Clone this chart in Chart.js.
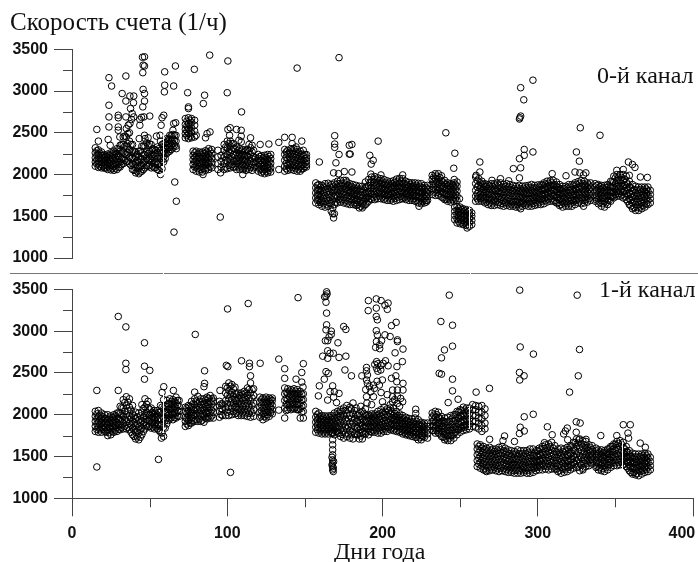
<!DOCTYPE html>
<html lang="ru">
<head>
<meta charset="utf-8">
<title>Скорость счета</title>
<script src="https://cdn.jsdelivr.net/npm/chart.js@4"></script>
<style>
  html, body { margin: 0; padding: 0; background: #fff; }
  #page { position: relative; width: 698px; height: 562px; overflow: hidden; }
  canvas { position: absolute; left: 0; }
  .label { position: absolute; font-family: "Liberation Serif", serif; color: #111; white-space: nowrap; line-height: 1; }
  #sep { position: absolute; left: 10px; top: 273px; width: 688px; height: 1px; background: #777; }
  .nick { position: absolute; top: 273px; width: 1px; height: 1px; background: #fff; }
</style>
</head>
<body>
<div id="page">
  <canvas id="chart0" width="698" height="273" style="top:0"></canvas>
  <canvas id="chart1" width="698" height="289" style="top:273px"></canvas>
  <div id="sep"></div>
  <div class="nick" style="left:163px"></div>
  <div class="nick" style="left:470px"></div>
  <div class="label" style="left:10px;top:9px;font-size:25px">Скорость счета (1/ч)</div>
  <div class="label" style="left:597px;top:63px;font-size:24px">0-й канал</div>
  <div class="label" style="left:599px;top:277px;font-size:24px">1-й канал</div>
  <div class="label" style="left:334px;top:539px;font-size:24px">Дни года</div>
</div>
<script>
const xTicksMajor = [0, 100, 200, 300, 400];
const xTicksMinor = [50, 150, 250, 350];
const yTicksMinor = [1250, 1750, 2250, 2750, 3250];

// channel 0: dense band, one row per day: day, then rates read bottom to top of the band
const ch0Band = [
  [15,2100,2150,2200,2260,2320],[17,2085,2135,2190,2240,2295],[19,2080,2120,2175,2225,2270],[21,2075,2110,2160,2200,2235],
  [23,2060,2105,2150,2205,2245],[25,2055,2110,2160,2210,2260],[27,2050,2100,2165,2225,2280],[29,2060,2120,2180,2250,2310],
  [31,2090,2150,2210,2280,2350],[33,2130,2190,2270,2360,2450],[35,2150,2240,2340,2450,2550],[37,2130,2210,2300,2400,2500],
  [39,2060,2130,2200,2280,2360],[41,2020,2080,2140,2210,2270],[43,2010,2075,2150,2215,2280],[45,2040,2110,2185,2260,2340],
  [47,2080,2160,2240,2340,2430],[49,2100,2170,2250,2350,2440],[51,2080,2150,2215,2290,2360],[53,2080,2130,2190,2245,2300],
  [55,2060,2120,2190,2260,2330],[57,2000,2090,2190,2290,2400],[59,2150,2210,2270,2320,2370],[61,2250,2300,2345,2390,2430],
  [63,2280,2330,2375,2425,2470],[65,2320,2370,2425,2480,2530],[67,2340,2400,2470],
  [73,2440,2490,2540,2600,2670],[75,2430,2490,2550,2610,2680],[77,2440,2500,2560,2620,2670],[79,2450,2520,2590,2650],
  [78,2060,2120,2180,2230,2280],[80,2040,2100,2160,2220,2280],[82,2030,2090,2150,2210,2270],[84,2030,2090,2155,2215,2270],
  [86,2050,2110,2170,2225,2285],[88,2060,2125,2185,2245,2310],[90,2080,2140,2195,2250,2300],
  [94,2060,2130,2210,2290],[96,2090,2160,2230],
  [98,2060,2130,2210,2290,2360],[100,2070,2160,2240,2320,2400],[102,2080,2170,2260,2340,2400],[104,2090,2170,2240,2310,2370],
  [106,2060,2130,2190,2260,2330],[108,2060,2130,2190,2250,2310],[110,2060,2120,2180,2240,2300],[112,2050,2110,2170,2230,2290],
  [114,2060,2130,2200,2280,2360],[116,2050,2120,2190,2270,2350],[118,2090,2150,2200],
  [120,2040,2090,2140,2190,2240],[122,2020,2070,2120,2170,2225],[124,2010,2060,2110,2170,2230],[126,2020,2070,2120,2180,2240],
  [128,2030,2080,2135,2190,2240],
  [137,2040,2100,2170,2240,2300],[139,2050,2110,2180,2240,2290],[141,2060,2120,2185,2250,2310],[143,2050,2110,2175,2245,2310],
  [145,2040,2100,2170,2235,2300],[147,2040,2095,2150,2215,2280],[149,2070,2120,2170,2230,2290],[151,2090,2120,2160,2200,2240],
  [157,1660,1720,1780,1840,1900],[159,1640,1700,1760,1820,1880],[161,1620,1680,1740,1810,1870],[163,1610,1680,1750,1820,1890],
  [165,1620,1690,1760,1830,1895],[167,1560,1650,1740,1820,1880],[169,1530,1640,1730,1810,1900],[171,1660,1730,1790,1850,1920],
  [173,1670,1735,1800,1860,1930],[175,1660,1725,1790,1860,1930],[177,1650,1720,1790,1850,1910],[179,1640,1710,1780,1840,1890],
  [181,1640,1700,1765,1825,1880],[183,1630,1690,1750,1810,1870],[185,1600,1665,1730,1795,1860],[187,1600,1650,1720,1790,1860],
  [189,1640,1710,1770,1840,1910],[191,1680,1740,1800,1870,1940],[193,1700,1770,1840,1910,1970],[195,1700,1765,1835,1905,1975],
  [197,1710,1775,1840,1900,1960],[199,1710,1770,1830,1890,1950],[201,1700,1760,1820,1880,1940],[203,1690,1750,1810,1870,1925],
  [205,1690,1745,1800,1860,1915],[207,1680,1740,1800,1865,1925],[209,1690,1755,1820,1885,1945],[211,1700,1765,1830,1895,1955],
  [213,1710,1770,1830,1890,1950],[215,1700,1755,1810,1865,1920],[217,1690,1745,1800,1855,1905],[219,1690,1745,1800,1855,1900],
  [221,1680,1735,1790,1845,1900],[223,1660,1720,1780,1840,1895],[225,1650,1710,1770,1830,1890],[227,1660,1710,1765,1820,1870],
  [229,1690,1735,1780,1825,1870],
  [232,1760,1820,1880,1940,1990],[234,1750,1820,1885,1950,2010],[236,1750,1815,1880,1945,2010],[238,1730,1795,1860,1925,1985],
  [240,1700,1760,1825,1885,1930],[242,1680,1740,1800,1860,1900],[244,1670,1730,1790,1850,1890],[246,1680,1730,1790,1850,1900],
  [248,1690,1745,1800,1860,1910],
  [246.5,1460,1510,1560,1610],[248,1420,1470,1520,1570,1620],[250,1410,1460,1510,1560,1610],[252,1400,1450,1500,1550,1590],
  [254,1390,1440,1490,1540,1580],[256,1380,1430,1480,1530,1570],[257.5,1400,1450,1500,1540],
  [260,1680,1740,1810,1890,1970],[262,1680,1740,1800,1870,1950],[264,1680,1730,1790,1860,1920],[266,1660,1720,1785,1850,1890],
  [268,1640,1700,1760,1825,1880],[270,1630,1695,1760,1825,1890],[272,1630,1695,1760,1825,1890],[274,1640,1700,1770,1835,1900],
  [276,1630,1700,1770,1840,1900],[278,1620,1690,1755,1820,1880],[280,1630,1690,1755,1820,1890],[282,1620,1680,1750,1820,1880],
  [284,1620,1675,1740,1805,1870],[286,1610,1675,1740,1805,1860],[288,1610,1670,1735,1800,1870],[290,1620,1680,1740,1800,1860],
  [292,1630,1685,1745,1805,1865],[294,1620,1680,1745,1810,1870],[296,1620,1680,1745,1810,1880],[298,1630,1690,1750,1810,1870],
  [300,1640,1695,1755,1815,1875],[302,1640,1700,1760,1820,1880],[304,1650,1710,1775,1840,1900],[306,1670,1730,1790,1855,1920],
  [308,1680,1740,1805,1865,1925],[310,1680,1745,1810,1870,1930],[312,1660,1725,1790,1850,1910],[314,1630,1695,1760,1820,1880],
  [316,1610,1675,1740,1800,1860],[318,1620,1680,1740,1800,1860],[320,1620,1685,1750,1810,1880],[322,1620,1690,1755,1820,1880],
  [324,1640,1700,1765,1830,1900],[326,1660,1720,1785,1850,1915],[328,1650,1720,1790,1860,1930],[330,1660,1725,1790,1860,1920],
  [332,1670,1730,1790,1850,1900],[334,1690,1745,1800,1850,1900],
  [337,1680,1730,1790,1850,1890],[339,1650,1710,1770,1830,1880],[341,1620,1685,1750,1815,1870],[343,1610,1680,1745,1810,1870],
  [345,1640,1695,1755,1815,1880],[347,1680,1735,1790,1850,1920],[349,1720,1780,1840,1910,1980],[351,1740,1800,1860,1930,2000],
  [353,1740,1800,1860,1930,2000],[355,1720,1790,1860,1930,2000],[357,1700,1770,1840,1910,1980],[359,1640,1710,1780,1850,1920],
  [361,1590,1660,1730,1800,1880],[363,1570,1640,1710,1780,1860],[365,1570,1640,1710,1775,1850],[367,1590,1660,1725,1790,1850],
  [369,1610,1670,1735,1795,1850],[371,1640,1695,1750,1800,1850],[372.5,1660,1710,1760,1810]
];

// channel 0: the days in between, inside the band
const ch0Fill = [
  [16,2125,2175,2230,2285],[18,2100,2150,2200,2255],[20,2095,2140,2185,2230],[22,2080,2125,2175,2220],[24,2080,2130,2180,2230],
  [26,2075,2130,2190,2245],[28,2075,2140,2200,2270],[30,2085,2150,2220,2300],[32,2120,2185,2260,2360],[34,2170,2250,2340,2460],
  [36,2160,2260,2370,2490],[38,2110,2190,2270,2360],[40,2050,2115,2190,2280],[42,2040,2105,2170,2240],[44,2030,2100,2185,2280],
  [46,2060,2145,2235,2340],[48,2105,2190,2280,2380],[50,2110,2190,2275,2365],[52,2100,2170,2240,2310],[54,2085,2150,2220,2290],
  [56,2050,2135,2220,2310],[58,2070,2170,2260,2360],[60,2190,2250,2310,2380],[62,2270,2320,2370,2420],[64,2300,2355,2410,2465],
  [66,2350,2410,2470],[74,2465,2520,2580,2640],[76,2460,2525,2590,2650],[79,2090,2150,2205,2260],[81,2070,2130,2190,2250],
  [83,2060,2125,2185,2245],[85,2070,2130,2190,2250],[87,2080,2145,2205,2270],[89,2095,2160,2220,2280],[99,2090,2170,2250,2330],
  [101,2110,2200,2280,2370],[103,2120,2210,2290,2370],[105,2090,2160,2230,2310],[107,2090,2160,2225,2290],[109,2090,2155,2220,2280],
  [111,2085,2150,2210,2270],[113,2080,2150,2220,2300],[115,2085,2160,2240,2320],[117,2080,2150,2215,2290],[121,2060,2115,2165,2215],
  [123,2040,2095,2145,2200],[125,2040,2090,2145,2205],[127,2050,2100,2155,2215],[138,2070,2135,2205,2270],[140,2080,2145,2210,2270],
  [142,2085,2150,2215,2280],[144,2075,2140,2205,2275],[146,2065,2125,2190,2260],[148,2065,2120,2180,2245],[150,2095,2140,2190,2240],
  [158,1690,1750,1810,1870],[160,1665,1730,1790,1850],[162,1650,1715,1780,1850],[164,1645,1720,1790,1860],[166,1655,1725,1795,1860],
  [168,1600,1695,1780,1850],[170,1670,1745,1815,1880],[172,1700,1765,1825,1890],[174,1695,1765,1830,1895],[176,1685,1755,1825,1885],
  [178,1675,1745,1810,1870],[180,1670,1735,1795,1855],[182,1660,1720,1780,1840],[184,1640,1705,1770,1835],[186,1620,1685,1755,1825],
  [188,1625,1685,1750,1815],[190,1660,1725,1785,1855],[192,1710,1770,1835,1905],[194,1730,1800,1870,1940],[196,1735,1800,1870,1935],
  [198,1740,1800,1860,1925],[200,1730,1790,1850,1910],[202,1720,1780,1840,1900],[204,1720,1775,1835,1895],[206,1710,1770,1830,1890],
  [208,1715,1780,1845,1905],[210,1730,1795,1860,1920],[212,1735,1800,1860,1920],[214,1725,1785,1840,1895],[216,1720,1775,1830,1880],
  [218,1715,1770,1825,1880],[220,1710,1765,1820,1870],[222,1690,1750,1810,1870],[224,1680,1740,1800,1860],[226,1680,1735,1790,1845],
  [228,1690,1740,1790,1840],[233,1790,1850,1915,1970],[235,1785,1850,1915,1980],[237,1770,1835,1900,1965],[239,1720,1785,1850,1910],
  [241,1705,1765,1830,1885],[243,1700,1760,1820,1870],[245,1700,1760,1820,1875],[247,1710,1765,1825,1880],[249,1440,1490,1545,1595],
  [251,1430,1480,1530,1580],[253,1420,1465,1515,1565],[255,1405,1455,1505,1555],[261,1710,1770,1850,1930],[263,1710,1765,1830,1900],
  [265,1695,1755,1820,1880],[267,1670,1730,1795,1860],[269,1660,1725,1790,1860],[271,1660,1730,1795,1860],[273,1670,1735,1800,1870],
  [275,1665,1735,1800,1870],[277,1655,1725,1790,1850],[279,1660,1720,1785,1855],[281,1650,1715,1785,1850],[283,1645,1705,1775,1840],
  [285,1640,1705,1770,1830],[287,1640,1700,1770,1835],[289,1650,1710,1770,1830],[291,1655,1715,1775,1835],[293,1650,1710,1775,1840],
  [295,1650,1710,1775,1845],[297,1655,1720,1780,1840],[299,1665,1725,1785,1845],[301,1670,1730,1790,1850],[303,1680,1740,1805,1870],
  [305,1690,1760,1820,1885],[307,1705,1770,1835,1895],[309,1710,1775,1840,1900],[311,1690,1755,1820,1880],[313,1660,1725,1790,1850],
  [315,1640,1705,1770,1830],[317,1650,1710,1770,1830],[319,1650,1715,1780,1845],[321,1650,1720,1785,1850],[323,1670,1730,1795,1865],
  [325,1690,1750,1815,1880],[327,1685,1755,1825,1895],[329,1690,1755,1825,1890],[331,1700,1760,1820,1875],[333,1710,1770,1825,1875],
  [338,1695,1750,1810,1870],[340,1665,1730,1790,1855],[342,1650,1715,1780,1840],[344,1660,1720,1785,1845],[346,1690,1745,1805,1865],
  [348,1730,1790,1850,1915],[350,1760,1820,1890,1960],[352,1770,1830,1895,1965],[354,1755,1825,1895,1965],[356,1740,1805,1875,1945],
  [358,1675,1745,1815,1885],[360,1625,1695,1765,1840],[362,1605,1675,1745,1820],[364,1605,1675,1745,1815],[366,1610,1680,1750,1820],
  [368,1630,1695,1760,1820],[370,1650,1710,1770,1825]
];

// channel 0: points standing clear of the band, day and rate
const ch0Extra = [
  [16,2540],[17,2400],[23.8,3160],[25.5,3060],[23.8,2830],[23.8,2690],[23.8,2570],[23.3,2420],[24.6,2350],[29.8,2710],[29.8,2680],
  [29.8,2570],[29.8,2530],[30.8,2450],[32.3,2970],[34.7,3180],[34.7,2880],[34.7,2690],[37.3,2940],[39.8,2940],[39.6,2860],[37.7,2790],
  [38.8,2730],[39.8,2690],[38.3,2660],[36.2,2590],[37.3,2610],[43.7,2660],[44.8,2685],[43.7,2590],[43.3,2430],[45.4,3405],[46.7,3410],
  [45.8,3310],[46.7,3300],[45.6,3220],[45.8,3020],[46.7,2970],[46.7,2880],[45.6,2810],[46.3,2690],[50.1,2700],[46.7,2470],[54.4,2460],
  [59.7,3230],[59.7,3070],[59.5,2990],[59.1,2710],[58,2680],[57.4,2590],[56.7,2470],[66.6,3300],[65.5,3060],[65.5,2610],[66.8,2620],
  [66.2,1910],[67.2,1680],[65.7,1310],[67.2,2310],[74.5,2980],[78.8,3260],[85.4,2950],[84.6,2850],[75,2810],[75,2790],[88.7,3430],
  [86,2440],[87,2490],[88.9,2510],[80,2470],[95.5,1490],[95.7,2020],[100.4,3360],[100,2980],[109.2,2750],[100.4,2540],[101.9,2560],
  [106,2540],[109,2530],[101.5,2470],[109,2460],[107.5,2410],[109,2390],[115,2440],[121.2,2360],[126.8,2365],[133.2,2385],[137,2445],
  [141.8,2445],[141.8,2370],[145,3275],[148,2400],[144.3,2330],[133.2,2060],[110,2000],[84.4,2000],[172,3400],[159.3,2150],[169.2,2465],
  [169.2,2365],[169.2,2325],[172,2240],[170,2140],[168.5,2020],[171.7,2010],[175.4,2035],[176.5,1930],[178.6,2350],[178.6,2245],
  [168.5,1480],[167.9,1530],[180.3,2360],[179.2,2245],[197.2,2400],[191.8,2230],[194,2170],[192.7,2125],[180.3,2030],[192.5,2005],
  [199,1995],[213,1995],[240.8,2500],[246.6,2255],[245.9,2075],[246.2,1940],[249.6,1710],[262.7,2150],[262.7,2030],[260.3,1990],
  [296.9,3130],[289,3040],[291,2895],[289,2700],[288.2,2665],[288.5,2680],[291.3,2300],[291.3,2230],[296.9,2270],[288.2,2190],
  [284.3,2070],[289,2080],[288.2,1960],[309.3,2010],[318.2,1985],[327.4,2560],[324.9,2270],[326.8,2160],[324,2030],[327.1,2020],
  [331,2020],[329.5,1995],[340.1,2470],[350.9,2050],[355.1,2060],[358.4,2150],[361,2120],[362.6,2085],[359,1990],[366.1,1970],
  [370.6,1965],[276,1950],[270.5,1930],[281.3,1925],[329.5,1620],[289,1590],[223.5,1620],[228.2,1670],[254.5,1360]
];

// channel 1: dense band, same layout as ch0Band
const ch1Band = [
  [15,1800,1860,1920,1980,2040],[17,1790,1850,1910,1975,2050],[19,1790,1850,1905,1960,2020],[21,1800,1850,1900,1950,2000],
  [23,1750,1815,1880,1940,2000],[25,1760,1820,1875,1930,1985],[27,1790,1840,1890,1945,2000],[29,1800,1850,1905,1960,2020],
  [31,1820,1880,1940,2010,2100],[33,1830,1900,1980,2080,2180],[35,1830,1910,2000,2110,2215],[37,1820,1900,1990,2090,2190],
  [39,1760,1840,1920,2010,2110],[41,1710,1790,1870,1950,2030],[43,1700,1780,1860,1940,2020],[45,1760,1840,1930,2030,2120],
  [47,1830,1910,1990,2090,2190],[49,1860,1930,2000,2080,2160],[51,1840,1900,1960,2020,2080],[53,1830,1885,1940,2000,2050],
  [55,1830,1885,1940,1995,2050],[57,1790,1870,1950,2030,2110],[59,1740,1850,1960,2070,2180],[61,1890,1960,2030,2100,2170],
  [63,1950,2010,2070,2130,2190],[65,1940,2000,2060,2120,2180],[67,1960,2020,2080,2140,2210],[69,1980,2040,2100,2170],
  [73,1860,1920,1970,2040,2090],[75,1870,1930,1990,2050,2110],[77,1900,1960,2020,2090,2160],[79,1920,1990,2050,2120,2190],
  [81,1920,1990,2060,2130,2220],[83,1920,1985,2050,2120,2190],[85,1910,1985,2055,2125,2190],[87,1950,2015,2080,2145,2210],
  [89,1960,2025,2090,2160,2230],[91,1960,2030,2090,2160,2200],[95,1970,2040,2110,2160],[97,1990,2060,2130],
  [99,1990,2080,2170,2260,2340],[101,1990,2090,2190,2290,2380],[103,2000,2090,2180,2270,2360],[105,2010,2090,2170,2250,2330],
  [107,1990,2060,2130,2200,2260],[109,1990,2060,2130,2200,2260],[111,1990,2060,2135,2210,2280],[113,1980,2060,2140,2230,2320],
  [115,1970,2060,2160,2260,2380],[117,1980,2060,2140,2230,2310],
  [121,1970,2030,2090,2150,2210],[123,1940,2010,2080,2145,2200],[125,1960,2025,2090,2150,2210],[127,1980,2040,2100,2160,2200],
  [129,2010,2060,2110,2170,2200],
  [137,1960,2080,2170,2250,2320],[139,2060,2120,2180,2250,2310],[141,2060,2120,2175,2240,2300],[143,2070,2130,2190,2250,2310],
  [145,2060,2120,2180,2240,2300],[147,1960,2070,2140,2210,2280],[149,1960,2040,2110,2180,2250],
  [157,1790,1850,1910,1970,2040],[159,1780,1840,1900,1960,2020],[161,1770,1830,1880,1940,1990],[163,1770,1820,1875,1930,1985],
  [165,1770,1825,1880,1935,1985],[167,1780,1830,1885,1940,1990],[169,1760,1820,1880,1950,2020],[171,1780,1840,1900,1970,2040],
  [173,1740,1820,1900,1980,2060],[175,1720,1810,1900,1990,2080],[177,1740,1830,1920,2010,2110],[179,1720,1810,1900,1990,2090],
  [181,1710,1800,1900,2010,2140],[183,1760,1840,1920,2000,2080],[185,1710,1780,1860,1940,2010],[187,1710,1790,1870,1950,2040],
  [189,1770,1840,1910,1990,2070],[191,1760,1830,1890,1950,2000],[193,1790,1850,1905,1960,2010],[195,1790,1850,1900,1960,2010],
  [197,1780,1840,1900,1960,2040],[199,1780,1850,1910,1980,2060],[201,1800,1860,1930,2000,2090],[203,1800,1860,1930,2000,2070],
  [205,1820,1880,1940,2010,2080],[207,1810,1870,1930,1990,2080],[209,1800,1860,1910,1975,2040],[211,1790,1840,1895,1950,2010],
  [213,1770,1825,1880,1935,1990],[215,1760,1810,1865,1920,1970],[217,1750,1800,1850,1905,1955],[219,1740,1790,1840,1890,1950],
  [221,1730,1785,1835,1885,1960],[223,1700,1760,1820,1880,1940],[225,1700,1750,1800,1860,1910],[227,1730,1775,1820,1865,1900],
  [229,1720,1770,1815,1860,1900],
  [232,1810,1860,1915,1970,2020],[234,1780,1840,1905,1970,2040],[236,1780,1835,1900,1965,2030],[238,1740,1800,1860,1920,1980],
  [240,1700,1765,1830,1900,1960],[242,1690,1750,1810,1875,1970],[244,1690,1750,1815,1880,1990],[246,1720,1780,1850,1920,2000],
  [248,1760,1820,1890,1960,2040],[250,1790,1850,1920,1990,2060],[252,1810,1870,1940,2010,2090],[254,1820,1880,1945,2015,2080],
  [256,1830,1890,1950,2010,2080],[258,1860,1920,1990,2060,2120],[260,1850,1920,1990,2060,2110],[262,1830,1900,1960,2030,2100],
  [264,1800,1870,1950,2030,2110],[266,1830,1900,1990,2070],
  [261,1380,1450,1520,1590,1650],[263,1360,1430,1500,1570,1640],[265,1340,1410,1480,1550,1620],[267,1320,1400,1470,1540,1600],
  [269,1330,1400,1470,1540,1610],[271,1340,1405,1470,1535,1590],[273,1330,1395,1460,1525,1590],[275,1320,1390,1465,1540,1610],
  [277,1330,1400,1470,1540,1620],[279,1320,1385,1455,1525,1600],[281,1310,1375,1440,1510,1580],[283,1310,1370,1430,1495,1570],
  [285,1300,1365,1430,1495,1560],[287,1300,1365,1430,1500,1580],[289,1300,1360,1425,1495,1570],[291,1310,1370,1435,1500,1570],
  [293,1300,1365,1430,1500,1570],[295,1300,1370,1440,1510,1590],[297,1310,1375,1440,1510,1590],[299,1330,1390,1450,1510,1570],
  [301,1340,1400,1460,1530,1600],[303,1340,1410,1480,1550,1620],[305,1350,1415,1485,1555,1640],[307,1340,1415,1490,1565,1650],
  [309,1350,1425,1500,1575,1670],[311,1350,1420,1490,1560,1630],[313,1320,1385,1450,1520,1590],[315,1300,1370,1440,1510,1600],
  [317,1310,1380,1450,1520,1590],[319,1320,1385,1450,1520,1610],[321,1340,1400,1470,1540,1630],[323,1360,1430,1500,1580,1670],
  [325,1370,1450,1530,1620,1710],[327,1330,1420,1510,1610,1710],[329,1360,1440,1520,1610,1690],[331,1380,1450,1520,1600,1680],
  [333,1390,1450,1510,1570,1640],[335,1410,1465,1520,1580,1630],
  [337.5,1370,1430,1490,1540,1600],[339,1340,1410,1470,1530,1580],[341,1330,1395,1460,1520,1580],[343,1320,1390,1450,1510,1570],
  [345,1340,1400,1465,1530,1590],[347,1370,1430,1495,1560,1620],[349,1390,1455,1520,1590,1650],[351,1390,1460,1530,1610,1680],
  [353,1400,1470,1540,1620,1690],[355,1400,1470,1540,1610,1670],[357,1380,1440,1500,1560,1620],[359,1330,1395,1460,1520,1570],
  [361,1290,1355,1420,1480,1540],[363,1280,1340,1400,1465,1530],[365,1270,1335,1400,1465,1530],[367,1290,1350,1410,1475,1530],
  [369,1310,1365,1425,1485,1540],[371,1320,1375,1430,1480,1530],[372.5,1340,1390,1440,1490]
];

// channel 1: the days in between, inside the band
const ch1Fill = [
  [16,1825,1890,1950,2010],[18,1820,1880,1935,1995],[20,1825,1875,1925,1975],[22,1790,1845,1900,1955],[24,1785,1845,1905,1960],
  [26,1800,1855,1910,1965],[28,1815,1870,1925,1985],[30,1825,1885,1950,2020],[32,1850,1920,1995,2085],[34,1860,1945,2040,2145],
  [36,1850,1945,2045,2150],[38,1790,1875,1960,2055],[40,1740,1820,1900,1985],[42,1735,1815,1895,1975],[44,1730,1815,1900,1985],
  [46,1800,1880,1970,2075],[48,1870,1945,2030,2125],[50,1860,1925,1995,2065],[52,1855,1910,1970,2025],[54,1855,1910,1965,2020],
  [56,1810,1880,1955,2030],[58,1780,1880,1985,2090],[60,1840,1930,2020,2105],[62,1930,1995,2060,2130],[64,1965,2030,2095,2155],
  [66,1965,2030,2095,2160],[68,1985,2050,2115,2170],[74,1890,1955,2015,2080],[76,1900,1965,2030,2100],[78,1930,1995,2060,2130],
  [80,1945,2015,2085,2165],[82,1945,2015,2085,2160],[84,1935,2010,2085,2155],[86,1960,2030,2100,2175],[88,1975,2050,2120,2195],
  [90,1985,2055,2125,2190],[96,2000,2070,2130],[100,2030,2130,2230,2320],[102,2040,2140,2240,2340],[104,2040,2130,2220,2310],
  [106,2020,2090,2170,2250],[108,2020,2090,2165,2230],[110,2020,2095,2170,2240],[112,2020,2100,2180,2260],[114,2015,2105,2200,2300],
  [116,2020,2110,2200,2300],[122,1985,2050,2115,2180],[124,1980,2050,2115,2180],[126,2000,2060,2125,2180],[128,2025,2080,2135,2185],
  [138,2050,2125,2195,2270],[140,2090,2150,2215,2280],[142,2090,2150,2215,2280],[144,2090,2155,2215,2280],[146,2060,2125,2190,2255],
  [148,2030,2100,2175,2245],[158,1820,1880,1940,2000],[160,1805,1865,1920,1975],[162,1795,1850,1905,1960],[164,1795,1850,1905,1960],
  [166,1800,1855,1910,1965],[168,1790,1850,1910,1970],[170,1800,1860,1925,1995],[172,1780,1860,1940,2020],[174,1765,1855,1945,2035],
  [176,1770,1860,1950,2050],[178,1770,1860,1955,2060],[180,1760,1855,1955,2070],[182,1770,1860,1950,2050],[184,1760,1835,1915,1995],
  [186,1745,1825,1905,1985],[188,1770,1850,1930,2015],[190,1795,1860,1925,1990],[192,1800,1860,1920,1985],[194,1815,1875,1930,1985],
  [196,1810,1870,1930,1990],[198,1810,1875,1940,2010],[200,1820,1885,1955,2030],[202,1830,1895,1965,2040],[204,1840,1905,1975,2045],
  [206,1840,1900,1965,2035],[208,1830,1890,1950,2015],[210,1815,1870,1930,1990],[212,1800,1855,1910,1965],[214,1790,1840,1895,1950],
  [216,1775,1825,1880,1930],[218,1765,1815,1870,1920],[220,1760,1810,1860,1915],[222,1730,1790,1855,1920],[224,1725,1780,1830,1885],
  [226,1740,1790,1840,1885],[233,1810,1870,1935,1995],[235,1810,1870,1935,2000],[237,1770,1830,1895,1960],[239,1730,1795,1865,1930],
  [241,1720,1780,1845,1915],[243,1720,1780,1845,1920],[245,1750,1815,1885,1960],[247,1790,1855,1925,2000],[249,1820,1885,1955,2030],
  [251,1840,1905,1975,2050],[253,1850,1915,1985,2055],[255,1860,1920,1985,2050],[262,1410,1480,1550,1620],[264,1385,1455,1525,1600],
  [266,1360,1440,1510,1580],[268,1365,1435,1505,1575],[270,1365,1435,1505,1575],[272,1365,1430,1495,1560],[274,1355,1425,1500,1575],
  [276,1360,1430,1505,1580],[278,1355,1425,1495,1570],[280,1345,1410,1480,1555],[282,1340,1405,1465,1535],[284,1335,1400,1465,1530],
  [286,1335,1400,1465,1540],[288,1330,1395,1460,1535],[290,1340,1400,1470,1535],[292,1335,1400,1465,1535],[294,1335,1405,1475,1550],
  [296,1340,1405,1475,1550],[298,1360,1420,1480,1540],[300,1370,1430,1495,1565],[302,1375,1445,1515,1585],[304,1385,1450,1520,1595],
  [306,1380,1450,1525,1605],[308,1385,1460,1535,1620],[310,1385,1455,1525,1600],[312,1350,1420,1485,1555],[314,1335,1405,1475,1550],
  [316,1345,1415,1485,1555],[318,1350,1415,1485,1565],[320,1370,1435,1505,1585],[322,1395,1465,1540,1625],[324,1410,1490,1575,1665],
  [326,1375,1465,1560,1660],[328,1395,1480,1565,1650],[330,1415,1485,1560,1640],[332,1420,1480,1540,1605],[334,1430,1490,1545,1605],
  [338,1385,1450,1510,1565],[340,1365,1430,1495,1555],[342,1355,1420,1485,1545],[344,1365,1425,1490,1550],[346,1400,1465,1525,1590],
  [348,1420,1490,1555,1620],[350,1425,1495,1570,1645],[352,1430,1505,1580,1655],[354,1435,1505,1575,1645],[356,1410,1470,1530,1590],
  [358,1360,1425,1490,1550],[360,1310,1375,1440,1500],[362,1310,1370,1435,1495],[364,1300,1365,1430,1495],[366,1320,1380,1440,1500],
  [368,1335,1395,1455,1510],[370,1345,1400,1455,1510]
];

// channel 1: points standing clear of the band, day and rate
const ch1Extra = [
  [16,2290],[16,1375],[29.8,3175],[34.7,3050],[34.7,2615],[34.7,2540],[29.8,2290],[46.7,2860],[46.7,2580],[50.1,2530],[46.7,2425],
  [55.7,1465],[59.1,2335],[58,2265],[57.6,1720],[65.3,2290],[79.4,2960],[85.4,2525],[85.4,2375],[85,2335],[79,2270],[99.4,2590],
  [100.4,2575],[100.2,3265],[113.5,3330],[102.1,1310],[109.2,2645],[114.3,2615],[114.3,2575],[121.2,2615],[133.2,2665],[137,2550],
  [137,2435],[145.6,3400],[144.3,2425],[149,2610],[148,2505],[148,2390],[148.8,2330],[95.3,2290],[115,2465],[133.2,2055],
  [164,3470],[164.3,3445],[163.6,3420],[162.7,3410],[163.6,3345],[164,3215],[164,3075],[163.6,3015],[167,3000],[167,2960],[165.6,2930],
  [163.2,2885],[164.7,2885],[164.7,2765],[161.5,2700],[164.7,2675],[166.2,2735],[168.3,2735],[171.3,2860],[172,2685],[175,3055],
  [176.4,3020],[176.4,2700],[175.8,2535],[163.6,2515],[165.1,2495],[162.5,2425],[159.3,2345],[158.7,2225],[164.7,2175],[166.2,2275],
  [167.9,2345],[169,2275],[172,2255],[168.5,2210],[170.4,2145],[167.9,1780],[167.9,1700],[167.9,1640],[167.9,1580],[167.9,1520],
  [167.5,1490],[167.9,1460],[168.5,1440],[167.9,1420],[167.5,1400],[167.9,1380],[168.3,1360],[167.9,1340],[168.3,1320],
  [190.9,3365],[196,3385],[199.1,3365],[201.6,3310],[203.6,3335],[203.1,3260],[196,3275],[190.8,3245],[196,3175],[196.7,3135],
  [208.8,3105],[205.8,3065],[196,3005],[196.7,2955],[201.6,2955],[204.9,2935],[209.6,2895],[209.6,2875],[199.4,2885],[196.1,2875],
  [198.2,2835],[195.6,2805],[198.2,2790],[213.2,2785],[208.1,2740],[212.8,2635],[196.2,2635],[201.9,2645],[200.4,2615],[203.6,2585],
  [209.3,2575],[189.7,2565],[196.2,2555],[198.9,2535],[189.7,2525],[180,2465],[186.7,2465],[190.3,2475],[189.7,2415],[190.3,2375],
  [199.9,2415],[205.8,2435],[208.6,2465],[209.2,2395],[213.2,2375],[191.6,2335],[194.2,2355],[198,2355],[194.8,2315],[199.1,2265],
  [206.5,2295],[209.6,2295],[213.2,2295],[189.7,2215],[194.2,2215],[206.5,2215],[209.6,2225],[211.7,2195],[200,2155],[206.5,2155],
  [213,2155],[186,2100],[221.4,2065],[221.4,2015],[209.6,2135],[192.5,2275],[196.5,2400],[189.2,2300],[203,2240],[207.8,2180],
  [211,2100],[205,2120],[193,2120],[190,2140],[197,2520],[195,2600],[197,2610],[199,2590],
  [243,3430],[237.6,3115],[245.1,3070],[245.1,2820],[239.9,2775],[238,2680],[236.5,2495],[238,2485],[245.1,2425],[245.1,2285],
  [248.7,2185],[242.3,2145],[260.3,2270],[268.9,2315],[288.4,3490],[325.4,3430],[288.7,2810],[297.2,2725],[326.9,2780],[326.1,2465],
  [288.2,2505],[291.2,2465],[288.4,2415],[320.5,2270],[291.3,1975],[297.1,2005],[324.8,1915],[327.3,1900],[306.2,1855],[288.7,1850],
  [291.3,1805],[288.2,1775],[309.3,1760],[319,1840],[317.8,1805],[316.7,1770],[319.3,1700],[304.3,1665],[324.8,1790],[340.6,1750],
  [350.9,1750],[355.1,1880],[359.6,1880],[358.1,1780],[358.5,1720],[366,1660],[369.3,1610],[269,1705],[278.6,1745],[277.6,1690],
  [285,1680],[266.4,1330],[329.1,1340],[331.1,1705],[326.4,1700]
];

// thin white scratches across the data in the original: day, rate from, rate to
const ch0Scratches = [[58.7, 1990, 2480], [255.9, 1360, 1610]];
const ch1Scratches = [[58.7, 1780, 2260], [255.9, 1830, 2110], [354, 1340, 1680]];

function toPoints(band, fill, extra) {
  const pts = [];
  band.concat(fill).forEach(row => row.slice(1).forEach(v => pts.push({ x: row[0], y: v })));
  extra.forEach(p => pts.push({ x: p[0], y: p[1] }));
  return pts;
}

// short ticks between the labelled ones, plus the scratches
const extrasPlugin = {
  id: 'extras',
  afterDraw(chart, args, opts) {
    const c = chart.ctx, xs = chart.scales.x, ys = chart.scales.y;
    c.save();
    c.strokeStyle = '#fff';
    c.lineWidth = 1;
    opts.scratches.forEach(s => {
      const px = Math.round(xs.getPixelForValue(s[0])) + 0.5;
      c.beginPath();
      c.moveTo(px, ys.getPixelForValue(s[1]));
      c.lineTo(px, ys.getPixelForValue(s[2]));
      c.stroke();
    });
    c.strokeStyle = '#444';
    yTicksMinor.forEach(v => {
      const py = Math.round(ys.getPixelForValue(v)) + 0.5;
      c.beginPath();
      c.moveTo(63, py);
      c.lineTo(xs.left, py);
      c.stroke();
    });
    if (opts.xMinor) {
      xTicksMinor.forEach(v => {
        const px = Math.round(xs.getPixelForValue(v)) + 0.5;
        c.beginPath();
        c.moveTo(px, ys.bottom);
        c.lineTo(px, ys.bottom + 9);
        c.stroke();
      });
    }
    c.restore();
  }
};

const tickFont = { family: '"Liberation Sans", Arial, sans-serif', size: 16, weight: 'bold' };

function makeChart(id, band, fill, extra, scratches, top, bottom, xHeight, showX) {
  return new Chart(document.getElementById(id), {
    type: 'scatter',
    data: {
      datasets: [{
        data: toPoints(band, fill, extra),
        clip: false,
        pointStyle: 'circle',
        pointRadius: 3.3,
        pointBorderWidth: 1,
        pointBorderColor: '#000',
        pointBackgroundColor: 'rgba(0,0,0,0)'
      }]
    },
    options: {
      responsive: false,
      animation: false,
      layout: { padding: { left: 0, right: 2.7, top: top, bottom: bottom } },
      plugins: {
        legend: { display: false },
        title: { display: false },
        tooltip: { enabled: false },
        extras: { scratches: scratches, xMinor: showX }
      },
      scales: {
        x: {
          type: 'linear',
          display: showX,
          min: 0,
          max: 400,
          afterBuildTicks(scale) { scale.ticks = xTicksMajor.map(v => ({ value: v })); },
          afterFit(scale) {
            scale.height = xHeight;
            scale.paddingLeft = 0;
            scale.paddingRight = 0;
          },
          border: { display: true, color: '#444', width: 1 },
          grid: { drawOnChartArea: false, drawTicks: true, tickLength: 18, tickColor: '#444' },
          ticks: {
            font: tickFont,
            color: '#111',
            padding: 8,
            maxRotation: 0,
            autoSkip: false,
            // last label is pulled in from the page edge
            callback: v => (v === 400 ? '400     ' : String(v))
          }
        },
        y: {
          type: 'linear',
          min: 1000,
          max: 3500,
          afterFit(scale) {
            scale.width = 72;
            scale.paddingTop = 0;
            scale.paddingBottom = 0;
          },
          border: { display: true, color: '#444', width: 1 },
          grid: { drawOnChartArea: false, drawTicks: true, tickLength: 18, tickColor: '#444' },
          ticks: { stepSize: 500, font: tickFont, color: '#111', padding: 6, callback: v => String(v) }
        }
      }
    },
    plugins: [extrasPlugin]
  });
}

makeChart('chart0', ch0Band, ch0Fill, ch0Extra, ch0Scratches, 49.3, 15, 0, false);
makeChart('chart1', ch1Band, ch1Fill, ch1Extra, ch1Scratches, 16.3, 0, 63.7, true);
</script>
</body>
</html>
